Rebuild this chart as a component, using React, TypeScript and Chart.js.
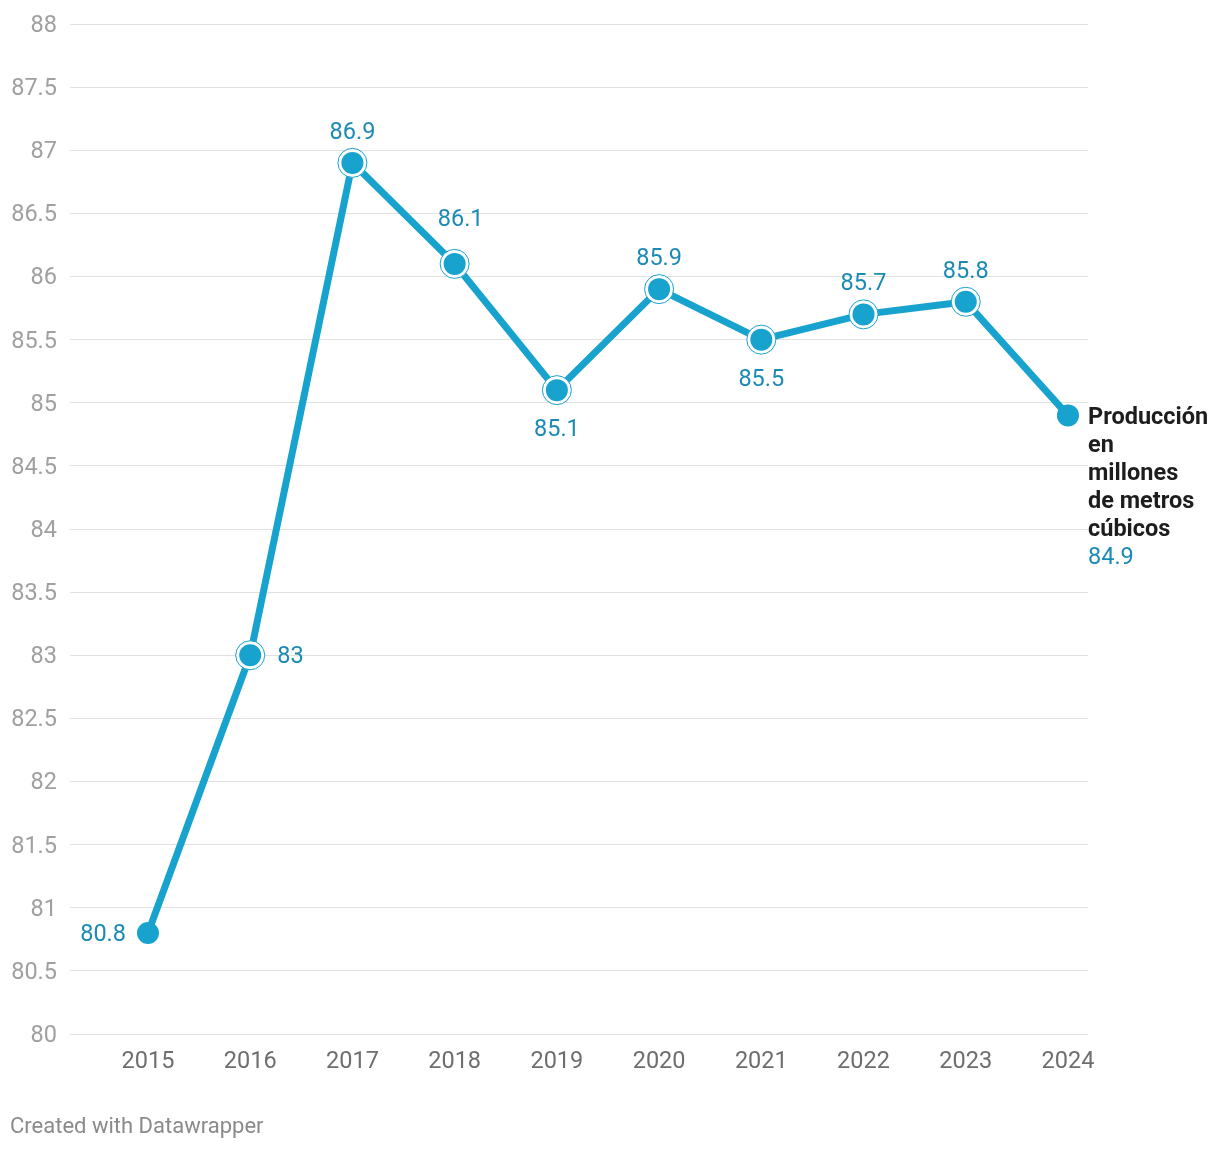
import React, { useEffect, useRef } from "react";
import { Chart, registerables } from "chart.js";

Chart.register(...registerables);

const years = [2015, 2016, 2017, 2018, 2019, 2020, 2021, 2022, 2023, 2024];
const production = [80.8, 83, 86.9, 86.1, 85.1, 85.9, 85.5, 85.7, 85.8, 84.9];
const seriesName = ["Producción", "en", "millones", "de metros", "cúbicos"];
const labelPlacement = ["left", "right", "above", "above2", "below", "above", "below", "above", "above", "end"];
const ringed = [false, true, true, true, true, true, true, true, true, false];

const LINE = "#18a2ce";
const LABEL = "#1b8ab4";
const FONT = "Roboto, 'Noto Sans', sans-serif";

const fmt = (v: number) => String(v);

const labelsPlugin = {
  id: "valueLabels",
  afterDatasetsDraw(chart: any) {
    const meta = chart.getDatasetMeta(0);
    const ctx = chart.ctx;
    ctx.save();
    ctx.font = `400 23.5px ${FONT}`;
    ctx.fillStyle = LABEL;
    meta.data.forEach((pt: any, i: number) => {
      const p = labelPlacement[i];
      const t = fmt(production[i]);
      const x = pt.x;
      const y = pt.y + 2;
      ctx.textBaseline = "middle";
      if (p === "left") {
        ctx.textAlign = "right";
        ctx.fillText(t, x - 22, y);
      } else if (p === "right") {
        ctx.textAlign = "left";
        ctx.fillText(t, x + 27, y);
      } else if (p === "above") {
        ctx.textAlign = "center";
        ctx.fillText(t, x, y - 32);
      } else if (p === "above2") {
        ctx.textAlign = "center";
        ctx.fillText(t, x + 6, y - 46);
      } else if (p === "below") {
        ctx.textAlign = "center";
        ctx.fillText(t, x, y + 38);
      } else if (p === "end") {
        const lx = chart.chartArea.right;
        ctx.textAlign = "left";
        ctx.font = `700 23.5px ${FONT}`;
        ctx.fillStyle = "#1d1d1d";
        seriesName.forEach((s, k) => ctx.fillText(s, lx, y + 1 + k * 28));
        ctx.font = `400 23.5px ${FONT}`;
        ctx.fillStyle = LABEL;
        ctx.fillText(t, lx, y + 1 + seriesName.length * 28);
      }
    });
    ctx.restore();
  },
};

export default function App() {
  const ref = useRef<HTMLCanvasElement | null>(null);

  useEffect(() => {
    document.body.style.margin = "0";
    const pts = years.map((x, i) => ({ x, y: production[i] }));
    const chart = new Chart(ref.current as HTMLCanvasElement, {
      type: "line",
      data: {
        datasets: [
          {
            data: pts,
            borderColor: LINE,
            borderWidth: 7,
            pointRadius: 0,
            tension: 0,
            order: 3,
          },
          {
            data: pts.filter((_, i) => ringed[i]),
            showLine: false,
            pointRadius: 14.5,
            pointBackgroundColor: "#ffffff",
            pointBorderColor: LINE,
            pointBorderWidth: 1,
            order: 2,
          },
          {
            data: pts,
            showLine: false,
            pointRadius: 11,
            pointBackgroundColor: LINE,
            pointBorderWidth: 0,
            order: 1,
          },
        ],
      },
      plugins: [labelsPlugin],
      options: {
        animation: false,
        responsive: false,
        maintainAspectRatio: false,
        layout: { padding: { left: 0, right: 132, top: 24, bottom: 76 } },
        plugins: { legend: { display: false }, tooltip: { enabled: false } },
        scales: {
          x: {
            type: "linear",
            min: 2014.237,
            max: 2024.196,
            afterBuildTicks: (s: any) => {
              s.ticks = years.map((v) => ({ value: v }));
            },
            afterFit: (s: any) => {
              s.height = 40;
              s.paddingLeft = 0;
              s.paddingRight = 0;
            },
            grid: { display: false },
            border: { display: false },
            ticks: {
              color: "#6e6e6e",
              padding: 6,
              font: { family: FONT, size: 23.5 },
              callback: (v: any) => String(v),
            },
          },
          y: {
            min: 80,
            max: 88,
            afterFit: (s: any) => {
              s.width = 70;
              s.paddingTop = 0;
              s.paddingBottom = 0;
            },
            border: { display: false },
            grid: { color: "#e1e1e1", lineWidth: 1, drawTicks: false },
            ticks: {
              stepSize: 0.5,
              color: "#a0a0a0",
              padding: 13,
              labelOffset: 2,
              font: { family: FONT, size: 23.5 },
              callback: (v: any) => String(v),
            },
          },
        },
      },
    } as any);
    return () => chart.destroy();
  }, []);

  return (
    <div style={{ position: "relative", width: 1220, height: 1150 }}>
      <canvas ref={ref} width={1220} height={1150} style={{ width: 1220, height: 1150, display: "block" }} />
      <div
        style={{
          position: "absolute",
          left: 10,
          top: 1113,
          fontFamily: FONT,
          fontSize: 22,
          color: "#8a8a8a",
        }}
      >
        Created with Datawrapper
      </div>
    </div>
  );
}
